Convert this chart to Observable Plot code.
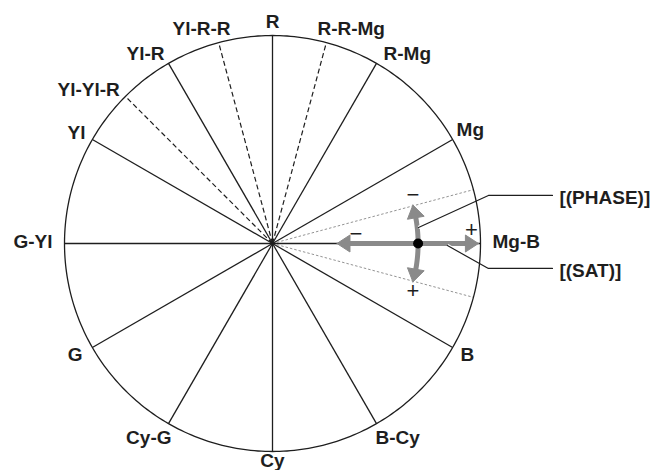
<!DOCTYPE html>
<html>
<head>
<meta charset="utf-8">
<script src="https://cdn.jsdelivr.net/npm/d3@7"></script>
<script src="https://cdn.jsdelivr.net/npm/@observablehq/plot@0.6"></script>
<style>
  html, body { margin: 0; padding: 0; background: #fff; }
  #chart { width: 654px; height: 470px; overflow: hidden; }
</style>
</head>
<body>
<div id="chart"></div>
<script>
// ---------- data ----------
const spokeAngles = [0, 30, 60, 90, 120, 150, 180, 210, 240, 270, 300, 330];
const spokeNames  = ["Mg-B", "Mg", "R-Mg", "R", "Yl-R", "Yl", "G-Yl", "G", "Cy-G", "Cy", "B-Cy", "B"];
const midAngles   = [75, 105, 135];
const midNames    = ["R-R-Mg", "Yl-R-R", "Yl-Yl-R"];
const phaseGuideAngles = [-15, 15];          // degrees, thin dashed guides
const targetSat   = 0.70;                    // radius of the adjusted point
const satExtent   = [0.31, 0.99];            // SAT arrow (radius)
const phaseExtent = [-15.3, 15.3];           // PHASE arrow (degrees)
const calloutNames = ["[(PHASE)]", "[(SAT)]"];
const calloutX = [[0.702, 1.038, 1.346], [0.841, 1.038, 1.346]];
const calloutY = [[0.077, 0.231, 0.231], [-0.010, -0.120, -0.120]];
const signTexts = ["\u2212", "+", "\u2212", "+"]; // phase max, phase min, sat min, sat max

// ---------- layout (pixels) ----------
const PX = 208;               // pixels per unit radius
const labelPad = 8;
const labelNudge = {
  "R-R-Mg": [-11, 0], "Yl-R-R": [14, 0], "R-Mg": [3, 4], "Yl-R": [0, 4],
  "Mg": [-3, 0], "Yl": [0, 3], "Yl-Yl-R": [0, 5], "Mg-B": [4, -2], "G-Yl": [-4, -2],
  "B": [1, -4], "G": [-3, -4], "B-Cy": [-5, 0], "Cy-G": [7, 0], "Cy": [0, -6]
};
const headLen = 13, headHalf = 8.5;

const D = Math.PI / 180;
const pol = (deg, r = 1) => [r * Math.cos(deg * D), r * Math.sin(deg * D)];

const circle = d3.range(0, 361, 1).map(a => pol(a));
const labels = spokeAngles.map((a, i) => ({a, name: spokeNames[i]}))
  .concat(midAngles.map((a, i) => ({a, name: midNames[i]})));

// arrows
const gray = "#8a8a8a";
const hL = headLen / PX, hH = headHalf / PX;
const satShaft = [{x1: satExtent[0] + hL * 0.8, x2: satExtent[1] - hL * 0.8}];
const dTheta = (hL / targetSat) / D;
const arcShaft = d3.range(phaseExtent[0] + dTheta * 0.8, phaseExtent[1] - dTheta * 0.8 + 0.01, 0.5)
  .map(a => pol(a, targetSat));
const heads = [];
[[satExtent[1], -1], [satExtent[0], 1]].forEach(([tip, dir], k) => {
  const b = tip + dir * hL;
  [[tip, 0], [b, hH], [b, -hH], [tip, 0]].forEach(p => heads.push({z: "s" + k, x: p[0], y: p[1]}));
});
[[phaseExtent[1], -1], [phaseExtent[0], 1]].forEach(([tip, dir], k) => {
  const tb = tip + dir * dTheta;
  [pol(tip, targetSat), pol(tb, targetSat + hH), pol(tb, targetSat - hH), pol(tip, targetSat)]
    .forEach(p => heads.push({z: "p" + k, x: p[0], y: p[1]}));
});

const callouts = [];
calloutNames.forEach((n, i) => calloutX[i].forEach((x, j) => callouts.push({name: n, x, y: calloutY[i][j]})));
// short white halo where each leader touches the gray arrow
const halos = [];
calloutNames.forEach((n, i) => {
  const x0 = calloutX[i][0], y0 = calloutY[i][0], x1 = calloutX[i][1], y1 = calloutY[i][1];
  const len = Math.hypot(x1 - x0, y1 - y0), f = (7 / PX) / len;
  halos.push({name: n, x: x0, y: y0}, {name: n, x: x0 + (x1 - x0) * f, y: y0 + (y1 - y0) * f});
});

const tipUp = pol(phaseExtent[1], targetSat), tipDown = pol(phaseExtent[0], targetSat);
const signs = [
  {t: signTexts[0], x: tipUp[0], y: tipUp[1] + 10 / PX},
  {t: signTexts[1], x: tipDown[0], y: tipDown[1] - 9 / PX},
  {t: signTexts[2], x: satExtent[0] + 19 / PX, y: 10 / PX},
  {t: signTexts[3], x: satExtent[1] - 7 / PX, y: 14 / PX}
];

const font = "Liberation Sans, Arial, Helvetica, sans-serif";
const ink = "#1e1e1e";

const labelMarks = labels.map(l => {
  const c = Math.cos(l.a * D), s = Math.sin(l.a * D);
  const ta = c > 0.2 ? "start" : c < -0.2 ? "end" : "middle";
  const la = s > 0.2 ? "bottom" : s < -0.2 ? "top" : "middle";
  const n = labelNudge[l.name] || [0, 0];
  return Plot.text([l], {
    x: d => (1 + labelPad / PX) * Math.cos(d.a * D) + n[0] / PX,
    y: d => (1 + labelPad / PX) * Math.sin(d.a * D) - n[1] / PX,
    text: "name", textAnchor: ta, lineAnchor: la,
    fontSize: 19, fontWeight: "bold", fontFamily: font, fill: ink
  });
});

const chart = Plot.plot({
  width: 654, height: 470,
  style: {background: "white", overflow: "visible"},
  x: {domain: [-1, 1], range: [64, 480], axis: null},
  y: {domain: [-1, 1], range: [451, 35], axis: null},
  marks: [
    Plot.link(phaseGuideAngles, {x1: () => 0, y1: () => 0, x2: a => pol(a)[0], y2: a => pol(a)[1],
      stroke: "#777", strokeWidth: 0.8, strokeDasharray: "2.5,2"}),
    Plot.link(midAngles, {x1: () => 0, y1: () => 0, x2: a => pol(a)[0], y2: a => pol(a)[1],
      stroke: ink, strokeWidth: 1.2, strokeDasharray: "5,3"}),
    Plot.link(spokeAngles, {x1: () => 0, y1: () => 0, x2: a => pol(a)[0], y2: a => pol(a)[1],
      stroke: ink, strokeWidth: 1.3}),
    Plot.line(circle, {x: d => d[0], y: d => d[1], stroke: ink, strokeWidth: 1.3}),
    Plot.link(satShaft, {x1: "x1", x2: "x2", y1: () => 0, y2: () => 0, stroke: gray, strokeWidth: 5}),
    Plot.line(arcShaft, {x: d => d[0], y: d => d[1], stroke: gray, strokeWidth: 5}),
    Plot.line(heads, {x: "x", y: "y", z: "z", fill: gray, stroke: gray, strokeWidth: 1}),
    Plot.line(halos, {x: "x", y: "y", z: "name", stroke: "white", strokeWidth: 3.5, strokeLinecap: "butt"}),
    Plot.line(callouts, {x: "x", y: "y", z: "name", stroke: ink, strokeWidth: 1.2}),
    Plot.dot([targetSat], {x: d => d, y: () => 0, r: 5, fill: "black", stroke: "none"}),
    Plot.text(signs, {x: "x", y: "y", text: "t", fontSize: 22, fontFamily: font, fill: ink, lineAnchor: "middle"}),
    Plot.text(calloutNames, {x: (d, i) => calloutX[i][2], y: (d, i) => calloutY[i][2], text: d => d,
      textAnchor: "start", dx: 7, dy: 2, fontSize: 19, fontWeight: "bold", fontFamily: font, fill: ink}),
    ...labelMarks
  ]
});
document.getElementById("chart").appendChild(chart);
</script>
</body>
</html>
